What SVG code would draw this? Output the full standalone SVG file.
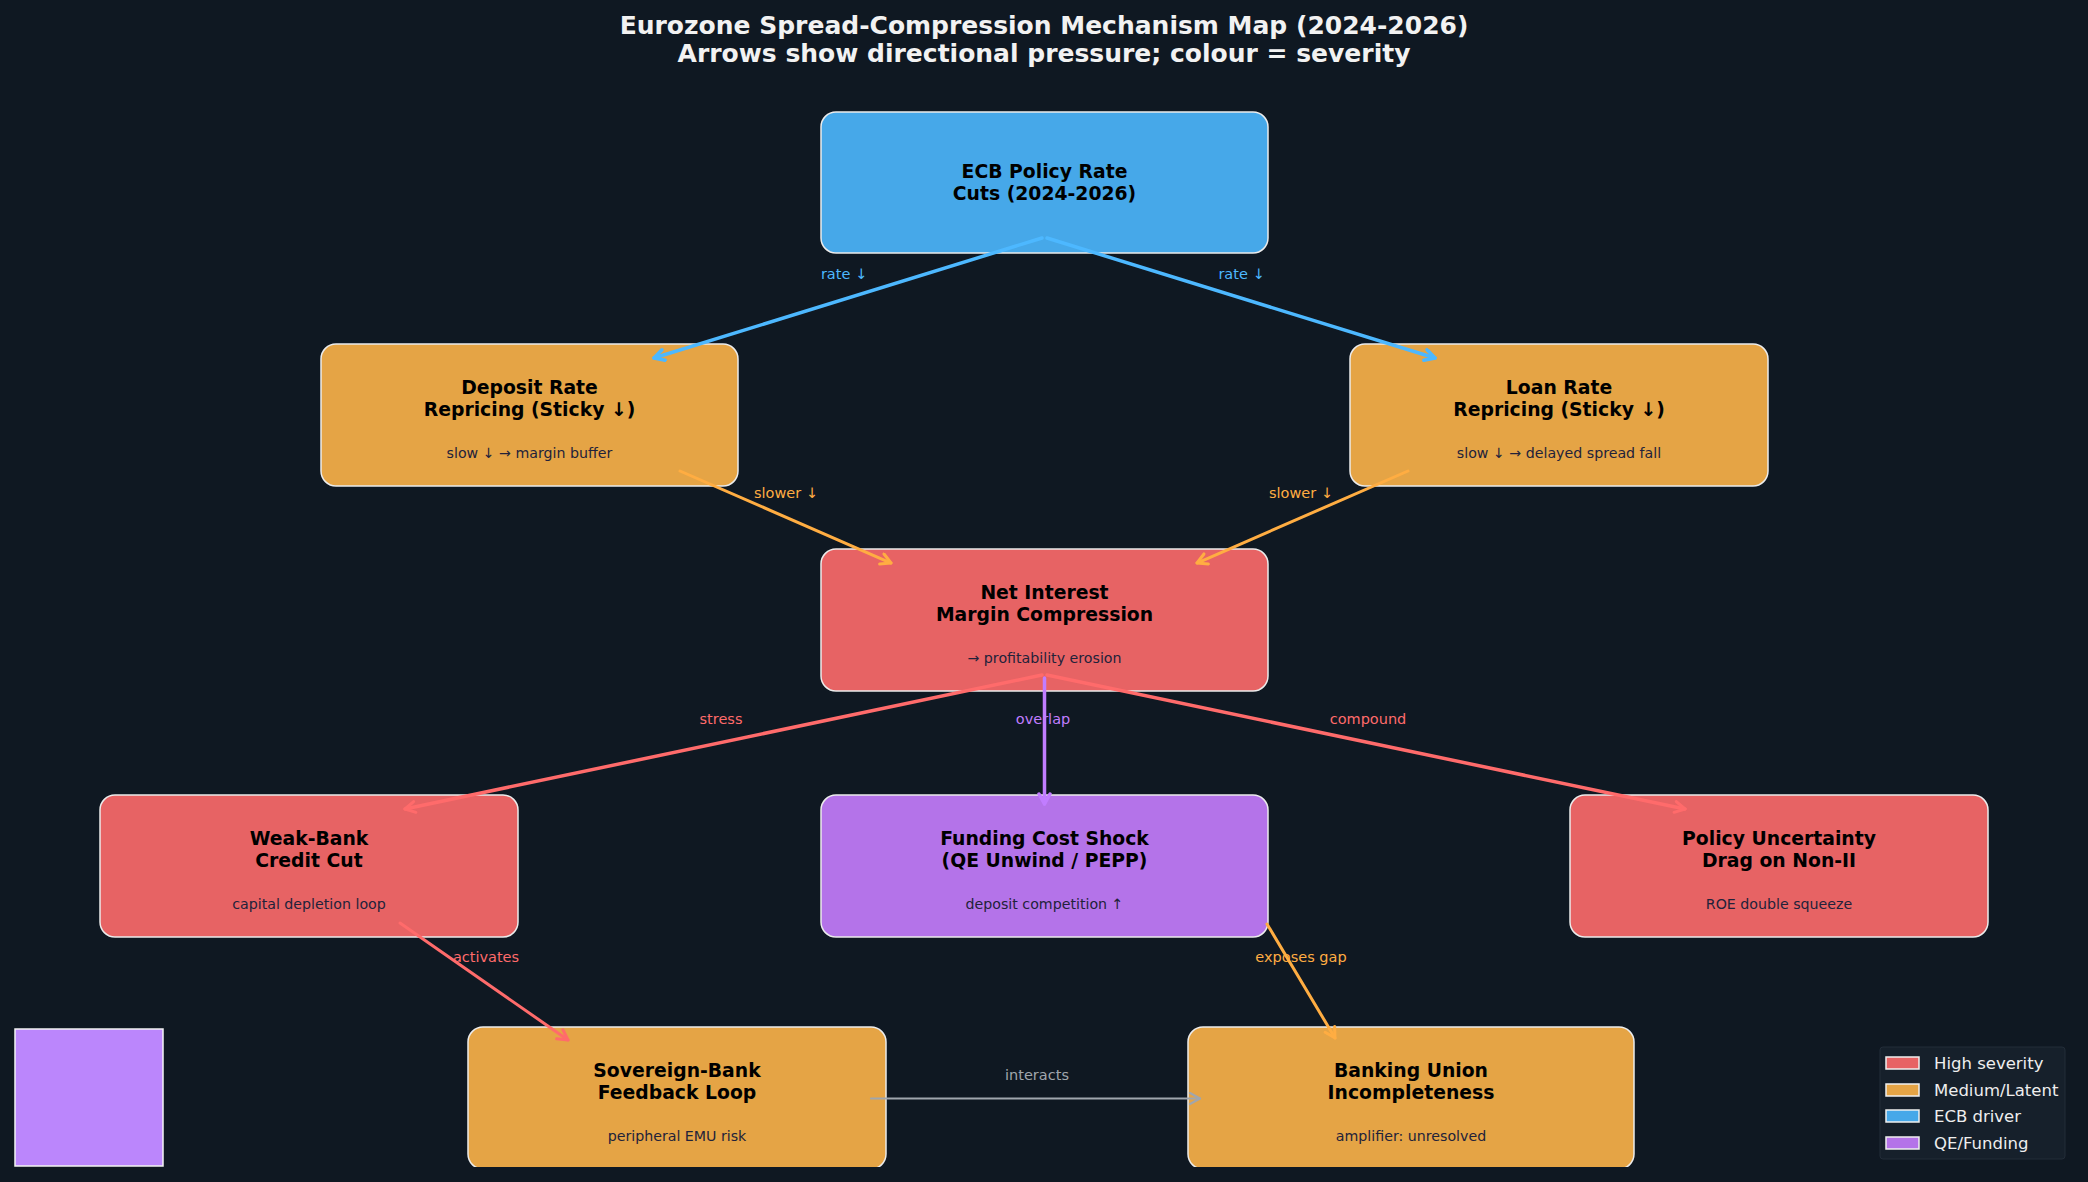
<svg xmlns="http://www.w3.org/2000/svg" width="2088" height="1182" viewBox="0 0 2088 1182">
<style>
text { font-family: "DejaVu Sans", "Liberation Sans", sans-serif; }
.title { font-size: 25px; font-weight: bold; fill: #f2f2f2; text-anchor: middle; }
.nt { font-size: 18.8px; font-weight: bold; fill: #000; text-anchor: middle; }
.ns { font-size: 14.2px; fill: #22223a; text-anchor: middle; }
.box { stroke: #ececec; stroke-width: 1.5; }
.high { fill: #e76364; }
.med { fill: #e5a445; }
.ecb { fill: #46a8e9; }
.qe { fill: #b473e9; }
.el { font-size: 14.5px; text-anchor: middle; }
.edge { fill: none; stroke-linecap: round; }
.lg { font-size: 16.5px; fill: #eeeeee; }
.sw { stroke: #f0f0f0; stroke-width: 1.5; }
</style>
<defs>
<clipPath id="axes"><rect x="0" y="0" width="2088" height="1167"/></clipPath>
<marker id="ab" markerUnits="userSpaceOnUse" markerWidth="16" markerHeight="16" refX="12" refY="7" orient="auto"><path d="M2,1.5 L12,7 L2,12.5" fill="none" stroke="#4db8ff" stroke-width="3.5" stroke-linecap="round" stroke-linejoin="round"/></marker>
<marker id="ao" markerUnits="userSpaceOnUse" markerWidth="16" markerHeight="16" refX="12" refY="7" orient="auto"><path d="M2,1.5 L12,7 L2,12.5" fill="none" stroke="#ffad42" stroke-width="3" stroke-linecap="round" stroke-linejoin="round"/></marker>
<marker id="ar" markerUnits="userSpaceOnUse" markerWidth="16" markerHeight="16" refX="12" refY="7" orient="auto"><path d="M2,1.5 L12,7 L2,12.5" fill="none" stroke="#ff6b6b" stroke-width="3" stroke-linecap="round" stroke-linejoin="round"/></marker>
<marker id="ap" markerUnits="userSpaceOnUse" markerWidth="16" markerHeight="16" refX="12" refY="7" orient="auto"><path d="M2,1.5 L12,7 L2,12.5" fill="none" stroke="#c17dff" stroke-width="3.5" stroke-linecap="round" stroke-linejoin="round"/></marker>
<marker id="ag" markerUnits="userSpaceOnUse" markerWidth="16" markerHeight="16" refX="12" refY="7" orient="auto"><path d="M2,1.5 L12,7 L2,12.5" fill="none" stroke="#a0a6ad" stroke-width="2.2" stroke-linecap="round" stroke-linejoin="round"/></marker>
</defs>
<rect x="0" y="0" width="2088" height="1182" fill="#0f1822"/>
<text class="title" x="1044" y="34">Eurozone Spread-Compression Mechanism Map (2024-2026)</text>
<text class="title" x="1044" y="62">Arrows show directional pressure; colour = severity</text>

<g id="nodes" clip-path="url(#axes)">
<g id="ecb">
<rect class="box ecb" x="821" y="112" width="447" height="141" rx="15"/>
<text class="nt" x="1044.5" y="178">ECB Policy Rate</text>
<text class="nt" x="1044.5" y="200">Cuts (2024-2026)</text>
</g>
<g id="deposit">
<rect class="box med" x="321" y="344" width="417" height="142" rx="15"/>
<text class="nt" x="529.5" y="394">Deposit Rate</text>
<text class="nt" x="529.5" y="416">Repricing (Sticky ↓)</text>
<text class="ns" x="529.5" y="458">slow ↓ → margin buffer</text>
</g>
<g id="loan">
<rect class="box med" x="1350" y="344" width="418" height="142" rx="15"/>
<text class="nt" x="1559" y="394">Loan Rate</text>
<text class="nt" x="1559" y="416">Repricing (Sticky ↓)</text>
<text class="ns" x="1559" y="458">slow ↓ → delayed spread fall</text>
</g>
<g id="nim">
<rect class="box high" x="821" y="549" width="447" height="142" rx="15"/>
<text class="nt" x="1044.5" y="599">Net Interest</text>
<text class="nt" x="1044.5" y="621">Margin Compression</text>
<text class="ns" x="1044.5" y="663">→ profitability erosion</text>
</g>
<g id="weakbank">
<rect class="box high" x="100" y="795" width="418" height="142" rx="15"/>
<text class="nt" x="309" y="845">Weak-Bank</text>
<text class="nt" x="309" y="867">Credit Cut</text>
<text class="ns" x="309" y="909">capital depletion loop</text>
</g>
<g id="funding">
<rect class="box qe" x="821" y="795" width="447" height="142" rx="15"/>
<text class="nt" x="1044.5" y="845">Funding Cost Shock</text>
<text class="nt" x="1044.5" y="867">(QE Unwind / PEPP)</text>
<text class="ns" x="1044.5" y="909">deposit competition ↑</text>
</g>
<g id="policy">
<rect class="box high" x="1570" y="795" width="418" height="142" rx="15"/>
<text class="nt" x="1779" y="845">Policy Uncertainty</text>
<text class="nt" x="1779" y="867">Drag on Non-II</text>
<text class="ns" x="1779" y="909">ROE double squeeze</text>
</g>
<g id="sovereign">
<rect class="box med" x="468" y="1027" width="418" height="142" rx="15"/>
<text class="nt" x="677" y="1077">Sovereign-Bank</text>
<text class="nt" x="677" y="1099">Feedback Loop</text>
<text class="ns" x="677" y="1141">peripheral EMU risk</text>
</g>
<g id="bankingunion">
<rect class="box med" x="1188" y="1027" width="446" height="142" rx="15"/>
<text class="nt" x="1411" y="1077">Banking Union</text>
<text class="nt" x="1411" y="1099">Incompleteness</text>
<text class="ns" x="1411" y="1141">amplifier: unresolved</text>
</g>
<g id="swatch">
<rect x="15" y="1029" width="148" height="137" fill="#bb86fc" stroke="#f4f4f4" stroke-width="1.5"/>
</g>
</g>

<g id="connectors">
<line class="edge" x1="1042" y1="238" x2="654" y2="358" stroke="#4db8ff" stroke-width="3.5" marker-end="url(#ab)"/>
<line class="edge" x1="1047" y1="238" x2="1435" y2="358" stroke="#4db8ff" stroke-width="3.5" marker-end="url(#ab)"/>
<text class="el" x="844" y="279" fill="#4db8ff">rate ↓</text>
<text class="el" x="1241.5" y="279" fill="#4db8ff">rate ↓</text>

<line class="edge" x1="680" y1="471" x2="891" y2="563" stroke="#ffad42" stroke-width="3" marker-end="url(#ao)"/>
<line class="edge" x1="1408" y1="471" x2="1197" y2="563" stroke="#ffad42" stroke-width="3" marker-end="url(#ao)"/>
<text class="el" x="786" y="498" fill="#ffad42">slower ↓</text>
<text class="el" x="1301" y="498" fill="#ffad42">slower ↓</text>

<text class="el" x="721" y="724" fill="#ff6b6b">stress</text>
<text class="el" x="1043" y="724" fill="#c17dff">overlap</text>
<text class="el" x="1368" y="724" fill="#ff6b6b">compound</text>
<line class="edge" x1="1042" y1="675" x2="405" y2="809" stroke="#ff6b6b" stroke-width="3.5" marker-end="url(#ar)"/>
<line class="edge" x1="1047" y1="675" x2="1685" y2="809" stroke="#ff6b6b" stroke-width="3.5" marker-end="url(#ar)"/>
<line class="edge" x1="1044.5" y1="678" x2="1044.5" y2="804" stroke="#c17dff" stroke-width="3.5" marker-end="url(#ap)"/>

<text class="el" x="486" y="962" fill="#ff6b6b">activates</text>
<text class="el" x="1301" y="962" fill="#ffad42">exposes gap</text>
<line class="edge" x1="400" y1="923" x2="568" y2="1040" stroke="#ff6b6b" stroke-width="3" marker-end="url(#ar)"/>
<line class="edge" x1="1267" y1="924" x2="1335" y2="1038" stroke="#ffad42" stroke-width="3" marker-end="url(#ao)"/>

<text class="el" x="1037" y="1080" fill="#a0a6ad">interacts</text>
<line class="edge" x1="871" y1="1098.5" x2="1200" y2="1098.5" stroke="#a0a6ad" stroke-width="2.2" marker-end="url(#ag)"/>
</g>

<g id="legend">
<rect x="1880" y="1047" width="185" height="112" rx="3" fill="#16202b" stroke="#222c38" stroke-width="1"/>
<rect class="sw high" x="1886" y="1057" width="33" height="12"/>
<text class="lg" x="1934" y="1069">High severity</text>
<rect class="sw med" x="1886" y="1084" width="33" height="12"/>
<text class="lg" x="1934" y="1096">Medium/Latent</text>
<rect class="sw ecb" x="1886" y="1110" width="33" height="12"/>
<text class="lg" x="1934" y="1122">ECB driver</text>
<rect class="sw qe" x="1886" y="1137" width="33" height="12"/>
<text class="lg" x="1934" y="1149">QE/Funding</text>
</g>
</svg>
